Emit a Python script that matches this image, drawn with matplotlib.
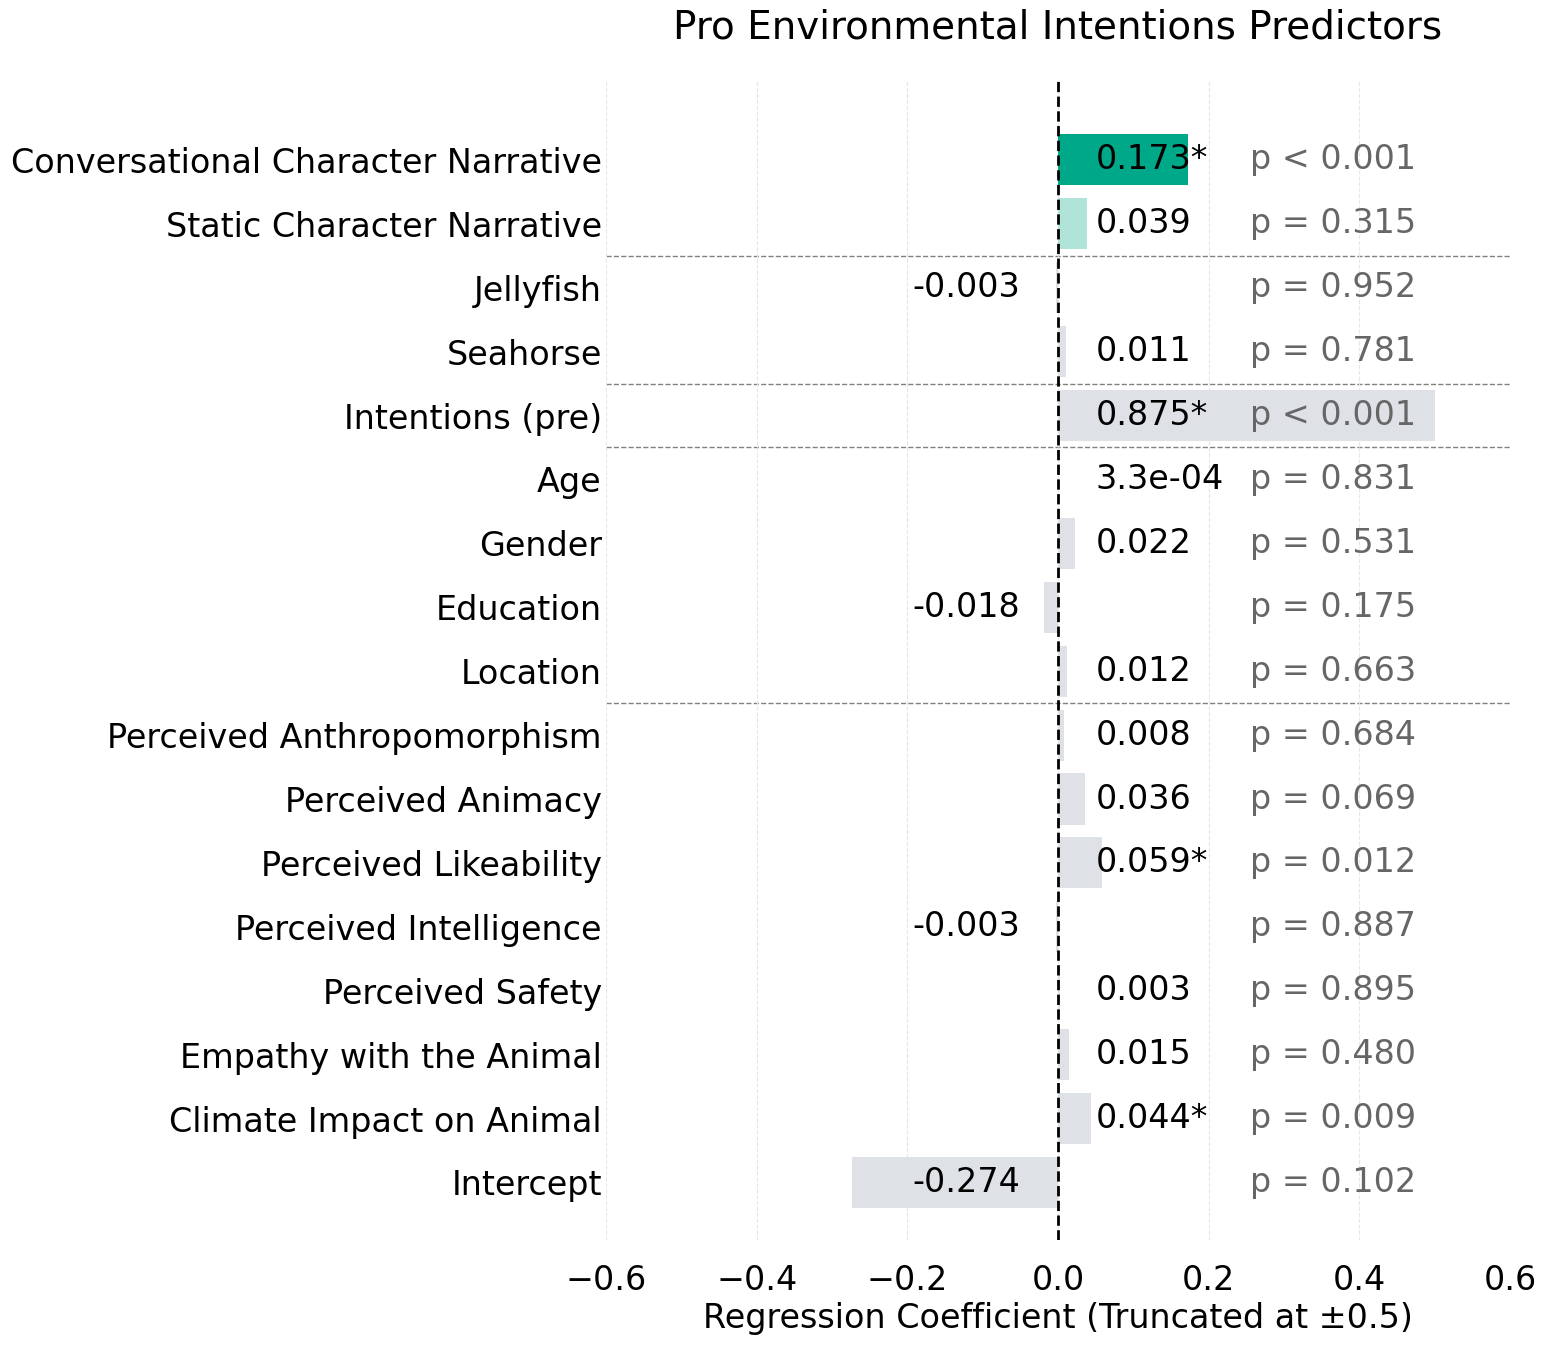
import matplotlib
matplotlib.use("Agg")
import matplotlib.pyplot as plt
import numpy as np

# Data
# ---------------------------------------------------------------------
predictors = ["Conversational Character Narrative", "Static Character Narrative",
              "Jellyfish", "Seahorse", "Intentions (pre)", "Age", "Gender",
              "Education", "Location", "Perceived Anthropomorphism",
              "Perceived Animacy", "Perceived Likeability", "Perceived Intelligence",
              "Perceived Safety", "Empathy with the Animal",
              "Climate Impact on Animal", "Intercept"]
coefs = [0.173, 0.039, -0.003, 0.011, 0.875, 3.3e-04, 0.022, -0.018, 0.012,
         0.008, 0.036, 0.059, -0.003, 0.003, 0.015, 0.044, -0.274]
pvals = [0.0005, 0.315, 0.952, 0.781, 0.0005, 0.831, 0.531, 0.175, 0.663,
         0.684, 0.069, 0.012, 0.887, 0.895, 0.480, 0.009, 0.102]
group_breaks = [1.5, 3.5, 4.5, 8.5]   # separators between predictor groups
limit = 0.5

bar_colors = ["#00a88a", "#b0e4d9"] + ["#dee1e5"] * 15

# Plotting
# ---------------------------------------------------------------------
fig = plt.figure(figsize=(15.48, 13.48), dpi=100)
ax = fig.add_axes([606/1548, 1 - 1240/1348, 904/1548, 1160/1348])

y = np.arange(len(predictors))
shown = np.clip(coefs, -limit, limit)
ax.barh(y, shown, height=0.8, color=bar_colors, zorder=2)
ax.axvline(0, color="black", linestyle="--", linewidth=2, zorder=3)

for b in group_breaks:
    ax.axhline(b, color="gray", linestyle="--", linewidth=1, zorder=1)

fs = 24
for i, (c, p) in enumerate(zip(coefs, pvals)):
    txt = f"{c:.1e}" if abs(c) < 0.001 else f"{c:.3f}"
    if p < 0.05:
        txt += "*"
    if c >= 0:
        ax.text(0.05, i, txt, ha="left", va="center", fontsize=fs, zorder=4)
    else:
        ax.text(-0.05, i, txt, ha="right", va="center", fontsize=fs, zorder=4)
    ptxt = "p < 0.001" if p < 0.001 else f"p = {p:.3f}"
    ax.text(0.255, i, ptxt, ha="left", va="center", fontsize=fs,
            color="#666666", zorder=4)

ax.set_yticks(y)
ax.set_yticklabels(predictors, fontsize=fs)
ax.set_ylim(16.9, -1.25)
ax.set_xlim(-0.6, 0.6)
ax.set_xticks(np.arange(-0.6, 0.61, 0.2))
ax.tick_params(axis="x", labelsize=fs, length=0, pad=17)
ax.tick_params(axis="y", length=0, pad=3)
ax.grid(axis="x", linestyle="--", color="#e6e6e6", linewidth=0.8, zorder=0)
for s in ax.spines.values():
    s.set_visible(False)

ax.set_xlabel("Regression Coefficient (Truncated at ±0.5)", fontsize=fs, labelpad=4)
ax.set_title("Pro Environmental Intentions Predictors", fontsize=28, pad=30)

plt.savefig("out.png", dpi=100)
